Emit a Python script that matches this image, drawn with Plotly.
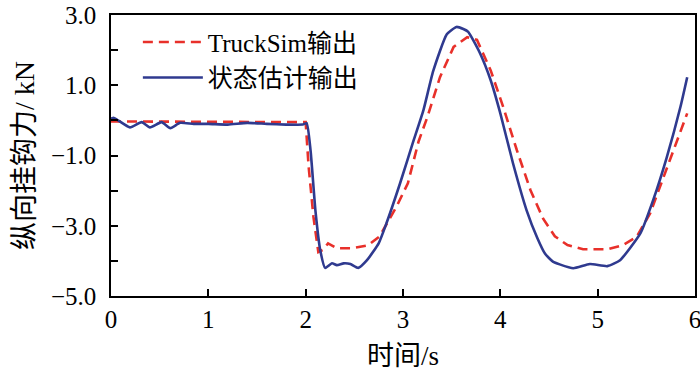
import plotly.graph_objects as go

# TruckSim output (red dashed)
t_truck = [0.0, 0.5, 1.0, 1.5, 1.99, 2.0, 2.03, 2.08, 2.13, 2.18, 2.23, 2.32, 2.48, 2.64, 2.76,
           2.94, 3.05, 3.16, 3.25, 3.38, 3.52, 3.66, 3.76, 3.9, 4.03, 4.17, 4.31, 4.44, 4.56,
           4.69, 4.85, 5.1, 5.26, 5.4, 5.54, 5.68, 5.82, 5.92]
f_truck = [-0.03, -0.03, -0.03, -0.03, -0.03, -0.05, -1.3, -2.75, -3.75, -3.68, -3.5, -3.64, -3.64,
           -3.56, -3.3, -2.42, -1.79, -0.6, 0.09, 1.23, 2.09, 2.37, 2.29, 1.43, 0.38, -0.85, -1.99,
           -2.8, -3.3, -3.55, -3.67, -3.67, -3.55, -3.32, -2.64, -1.61, -0.56, 0.2]

# State estimation output (blue solid)
t_est = [0.0, 0.03, 0.195, 0.315, 0.40, 0.52, 0.61, 0.71, 0.85, 1.0, 1.2, 1.4, 1.6, 1.8, 1.97,
         2.01, 2.05, 2.10, 2.15, 2.20, 2.27, 2.32, 2.39, 2.46, 2.54, 2.63, 2.75, 2.83, 2.97,
         3.1, 3.21, 3.31, 3.45, 3.55, 3.62, 3.67, 3.79, 3.9, 4.0, 4.13, 4.27, 4.38, 4.46, 4.54,
         4.61, 4.75, 4.92, 5.1, 5.23, 5.44, 5.57, 5.71, 5.85, 5.92]
f_est = [0.05, 0.07, -0.2, -0.05, -0.2, -0.05, -0.22, -0.07, -0.1, -0.1, -0.12, -0.07, -0.1, -0.12,
         -0.12, -0.08, -0.85, -2.56, -3.7, -4.2, -4.07, -4.12, -4.07, -4.09, -4.2, -3.98, -3.5,
         -2.93, -1.79, -0.65, 0.29, 1.4, 2.45, 2.66, 2.6, 2.52, 1.92, 1.15, 0.2, -1.22, -2.56,
         -3.35, -3.8, -4.02, -4.1, -4.21, -4.09, -4.15, -3.98, -3.21, -2.27, -1.05, 0.38, 1.23]

x_ticks = [0, 1, 2, 3, 4, 5, 6]
y_ticks = [-5, -3, -1, 1, 3]

FONT = "Liberation Serif, Times New Roman, Noto Sans CJK SC, serif"

fig = go.Figure()
fig.add_trace(go.Scatter(x=t_truck, y=f_truck, mode="lines", name="TruckSim输出",
                         line=dict(color="#E8302A", width=2.6, dash="10px,6px")))
fig.add_trace(go.Scatter(x=t_est, y=f_est, mode="lines", name="状态估计输出",
                         line=dict(color="#2F3A8F", width=2.6, shape="spline", smoothing=0.5)))

fig.update_layout(
    width=700, height=375,
    margin=dict(l=111, r=5, t=15, b=79),
    paper_bgcolor="white", plot_bgcolor="white",
    font=dict(family=FONT, size=25, color="black"),
    showlegend=True,
    legend=dict(x=0.046, y=0.985, xanchor="left", yanchor="top",
                bgcolor="rgba(0,0,0,0)", font=dict(size=25), itemwidth=60,
                tracegroupgap=0),
    xaxis=dict(range=[0, 6], tickvals=x_ticks, ticks="inside", ticklen=7, tickwidth=1.5,
               tickcolor="black", showline=True, linecolor="black", linewidth=1.5, mirror=True,
               showgrid=False, zeroline=False, automargin=False, ticklabeloverflow="allow",
               title=dict(text="时间/s", standoff=14, font=dict(size=27))),
    yaxis=dict(range=[-5, 3], tickvals=y_ticks, tickformat=".1f", ticks="inside", ticklen=7,
               tickwidth=1.5, tickcolor="black", showline=True, linecolor="black", linewidth=1.5,
               mirror=True, showgrid=False, zeroline=False, ticklabelstandoff=8, automargin=False,
               minor=dict(tickvals=[-4, -2, 0, 2], ticks="inside", ticklen=7, tickwidth=1.5,
                          tickcolor="black"),
               title=dict(text="纵向挂钩力/ kN", standoff=8, font=dict(size=28))),
)

fig.write_html("out.html", config={"displayModeBar": False},
               post_script="document.body.style.margin='0';document.body.style.overflow='hidden';")
